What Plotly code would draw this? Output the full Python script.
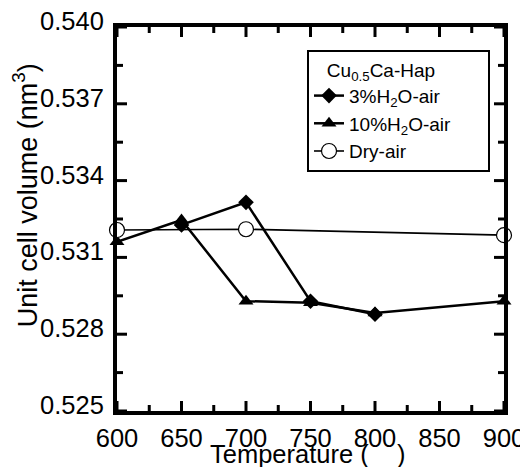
import plotly.graph_objects as go

temp_3 = [650, 700, 750, 800]
vol_3 = [0.53227, 0.53315, 0.52929, 0.52878]

temp_10 = [600, 650, 700, 750, 800, 900]
vol_10 = [0.53161, 0.53246, 0.52929, 0.52923, 0.52883, 0.52929]

temp_dry = [600, 700, 900]
vol_dry = [0.53207, 0.53210, 0.53187]

x_major = [600, 650, 700, 750, 800, 850, 900]
x_minor = [625, 675, 725, 775, 825, 875]
y_major = [0.525, 0.528, 0.531, 0.534, 0.537, 0.540]
y_minor = [0.5265, 0.5295, 0.5325, 0.5355, 0.5385]

X_RANGE = [600, 900]
Y_RANGE = [0.525, 0.540]

FONT = "Liberation Sans, Arial, sans-serif"
NB = "\u00a0"

# plot area size in pixels (used to express tick-mark lengths in pixels)
PLOT_W, PLOT_H = 387, 384
px_x = (X_RANGE[1] - X_RANGE[0]) / PLOT_W
px_y = (Y_RANGE[1] - Y_RANGE[0]) / PLOT_H

fig = go.Figure()
fig.add_trace(go.Scatter(x=temp_3, y=vol_3, mode="lines+markers", name="3%H<sub>2</sub>O-air",
                         line=dict(color="black", width=2.5),
                         marker=dict(symbol="diamond", size=12, color="black"), cliponaxis=False))
fig.add_trace(go.Scatter(x=temp_10, y=vol_10, mode="lines+markers", name="10%H<sub>2</sub>O-air" + NB * 6,
                         line=dict(color="black", width=2.5),
                         marker=dict(symbol="triangle-up", size=13, color="black"), cliponaxis=False))
fig.add_trace(go.Scatter(x=temp_dry, y=vol_dry, mode="lines+markers", name="Dry-air",
                         line=dict(color="black", width=1.6),
                         marker=dict(symbol="circle", size=15, color="white",
                                     line=dict(color="black", width=1.2)), cliponaxis=False))

# inward tick marks on all four sides, drawn as line segments
tx, ty = [], []
for v, L in [(v, 10) for v in x_major] + [(v, 6) for v in x_minor]:
    tx += [v, v, None, v, v, None]
    ty += [Y_RANGE[0], Y_RANGE[0] + L * px_y, None, Y_RANGE[1], Y_RANGE[1] - L * px_y, None]
for v, L in [(v, 10) for v in y_major] + [(v, 6) for v in y_minor]:
    tx += [X_RANGE[0], X_RANGE[0] + L * px_x, None, X_RANGE[1], X_RANGE[1] - L * px_x, None]
    ty += [v, v, None, v, v, None]
fig.add_trace(go.Scatter(x=tx, y=ty, mode="lines", line=dict(color="black", width=3),
                         showlegend=False, hoverinfo="skip", cliponaxis=False))

axis_common = dict(showline=True, linecolor="black", linewidth=4, mirror=True,
                   ticks="", showgrid=False, zeroline=False, automargin=False,
                   ticklabeloverflow="allow",
                   tickfont=dict(family=FONT, size=25.5, color="black"))

fig.update_xaxes(range=X_RANGE, tickvals=x_major, ticklabelstandoff=1, **axis_common)
fig.update_yaxes(range=Y_RANGE, tickvals=y_major, tickformat=".3f",
                 ticklabelshift=-6, ticklabelstandoff=4, **axis_common)

fig.add_annotation(text="Unit cell volume (nm<sup>3</sup>)", textangle=-90,
                   xref="paper", yref="paper", x=-0.237, y=0.5625,
                   xanchor="center", yanchor="middle", showarrow=False,
                   font=dict(family=FONT, size=27, color="black"))
fig.add_annotation(text="Temperature (" + NB * 4 + ")",
                   xref="paper", yref="paper", x=0.4935, y=-0.112,
                   xanchor="center", yanchor="middle", showarrow=False,
                   font=dict(family=FONT, size=25.5, color="black"))

# the page adds an offset of about 8px, so the figure is sized to fit the window
fig.update_layout(
    width=520, height=459,
    margin=dict(l=109, r=24, t=19, b=56),
    plot_bgcolor="white", paper_bgcolor="white",
    legend=dict(x=0.491, y=0.94, xanchor="left", yanchor="top",
                bordercolor="black", borderwidth=2, bgcolor="white",
                title=dict(text=NB * 3 + "Cu<sub>0.5</sub>Ca-Hap", font=dict(family=FONT, size=19, color="black")),
                font=dict(family=FONT, size=19, color="black"),
                tracegroupgap=0),
    showlegend=True,
)

fig.write_html("out.html")
